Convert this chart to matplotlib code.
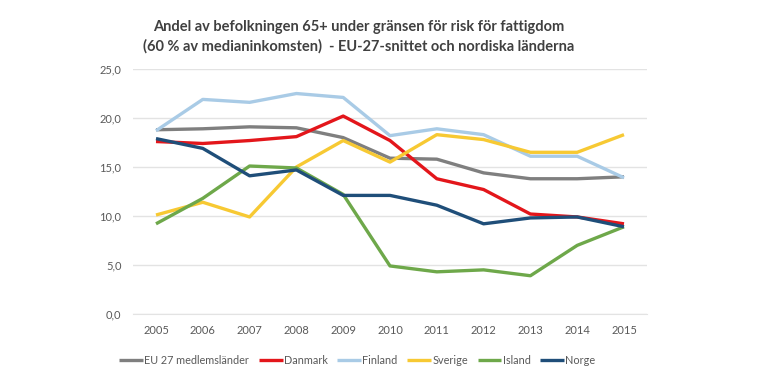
import matplotlib
matplotlib.use('Agg')
from matplotlib import pyplot as plt

years = list(range(2005, 2016))
eu27 = [18.8, 18.9, 19.1, 19.0, 18.0, 15.9, 15.8, 14.4, 13.8, 13.8, 14.0]
danmark = [17.6, 17.4, 17.7, 18.1, 20.2, 17.7, 13.8, 12.7, 10.2, 9.9, 9.2]
finland = [18.7, 21.9, 21.6, 22.5, 22.1, 18.2, 18.9, 18.3, 16.1, 16.1, 13.9]
sverige = [10.1, 11.4, 9.9, 15.0, 17.7, 15.5, 18.3, 17.8, 16.5, 16.5, 18.3]
island = [9.2, 11.8, 15.1, 14.9, 12.2, 4.9, 4.3, 4.5, 3.9, 7.0, 8.9]
norge = [17.9, 16.9, 14.1, 14.7, 12.1, 12.1, 11.1, 9.2, 9.8, 9.9, 8.9]
yticks = [0, 5, 10, 15, 20, 25]

plt.rcParams['font.family'] = ['Lato', 'DejaVu Sans']

fig = plt.figure(figsize=(7.8, 3.9), dpi=100)
ax = fig.add_axes([0.17, 0.195, 0.66, 0.628])

series = [
    ('EU 27 medlemsländer', eu27, '#7f7f7f'),
    ('Danmark', danmark, '#e3161b'),
    ('Finland', finland, '#a9cbe6'),
    ('Sverige', sverige, '#f7c933'),
    ('Island', island, '#6ea84a'),
    ('Norge', norge, '#1f4e79'),
]
for name, vals, col in series:
    ax.plot(years, vals, color=col, lw=2.4, label=name, solid_capstyle='butt')

ax.set_xlim(2004.5, 2015.5)
ax.set_ylim(0, 25)
ax.set_yticks(yticks)
ax.yaxis.set_major_formatter(matplotlib.ticker.FuncFormatter(lambda v, p: ('%.1f' % v).replace('.', ',')))
ax.set_xticks(years)
ax.grid(axis='y', color='#e3e3e3', lw=1)
ax.set_axisbelow(True)
for s in ['top', 'right', 'left']:
    ax.spines[s].set_visible(False)
ax.spines['bottom'].set_color('#e3e3e3')
ax.tick_params(length=0, labelsize=8, labelcolor='#595959', pad=8)

fig.text(0.46, 0.905, 'Andel av befolkningen 65+ under gränsen för risk för fattigdom\n(60 % av medianinkomsten)  - EU-27-snittet och nordiska länderna',
         ha='center', va='center', fontsize=10.5, fontweight='bold', color='#404040', linespacing=1.45)

fig.legend(loc='center', bbox_to_anchor=(0.458, 0.075), ncol=6, frameon=False,
           fontsize=7.8, handlelength=2.2, handletextpad=0.1, columnspacing=0.9,
           labelcolor='#595959')

plt.savefig('out.png', dpi=100)
